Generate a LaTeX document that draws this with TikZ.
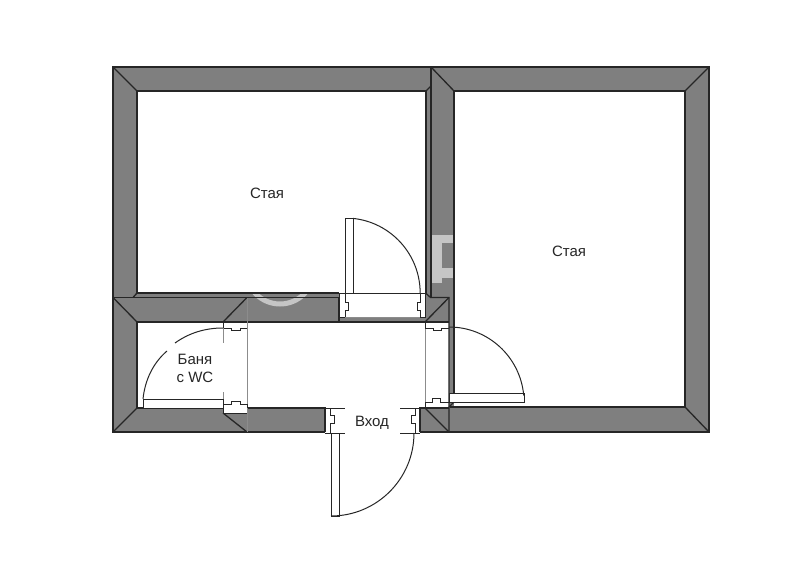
\documentclass[tikz,border=0pt]{standalone}
\usepackage{fontspec}
\setmainfont{Liberation Sans}
\definecolor{wallgray}{HTML}{7F7F7F}
\definecolor{ink}{HTML}{262626}
\tikzset{
  x=1pt,y=-1pt,
  wall/.style={draw=ink,line width=1.3pt,line join=miter},
  thin line/.style={draw=ink,line width=0.9pt},
  faint/.style={draw=black!45,line width=0.8pt},
  leaf/.style={draw=ink,line width=0.95pt,fill=white},
  swing/.style={draw=ink,line width=1pt},
  label/.style={font=\fontsize{15}{18}\selectfont,text=black!85,align=center,inner sep=0pt},
  mark stroke/.style={draw=white,opacity=0.55,line width=5pt},
}
\begin{document}
\begin{tikzpicture}
\useasboundingbox (0,0) rectangle (800,588);
% masonry
\fill[wallgray] (113,67) rectangle (709,432);
% white voids
\fill[white] (137,91) rectangle (426,293);
\fill[white] (454,91) rectangle (685,407);
\fill[white] (137,322) rectangle (425,408);
\fill[white] (425,322) rectangle (449,407);
\fill[white] (339,293) rectangle (425,317);
\fill[white] (325,408) rectangle (420,433);
\fill[white] (223,408) rectangle (247,413);
% watermark traces on the walls
\begin{scope}
  \clip (247,293) rectangle (339,322);
  \draw[mark stroke] (280,270) circle (34);
\end{scope}
\fill[white,opacity=0.55] (432,235) rectangle (454,243);
\fill[white,opacity=0.55] (432,243) rectangle (442,283);
\fill[white,opacity=0.55] (442,268) rectangle (454,278);
% outer contour and upper walls
\draw[wall] (325,432) -- (113,432) -- (113,67) -- (709,67) -- (709,432) -- (420,432);
\draw[wall] (137,293) -- (137,91) -- (426,91) -- (426,293);
\draw[wall] (454,393) -- (454,91) -- (685,91) -- (685,407) -- (449.5,407);
\draw[wall] (431,67) -- (431,297);
\draw[wall] (113,297.5) -- (247,297.5);
\draw[wall] (137,293) -- (339,293);
\draw[wall] (133,297.5) -- (339,297.5);
\draw[wall] (425.5,293) -- (430.5,297.5) -- (449,297.5) -- (449,432);
% mitres
\draw[wall] (113,67) -- (137,91);
\draw[wall] (709,67) -- (685,91);
\draw[wall] (709,432) -- (685,407);
\draw[wall] (431,67) -- (454,91);
\draw[wall] (431,86) -- (426,91);
\draw[wall] (137,293) -- (133,297.5);
\draw[wall] (449,297.5) -- (425,322);
\draw[wall] (425,408) -- (449,432);
\draw[wall] (113,297.5) -- (137,322);
\draw[wall] (113,432) -- (137,408);
\draw[wall] (247,297.5) -- (223,322);
\draw[wall] (247,432) -- (223,413);
\draw[wall] (454,402) -- (449,407);
% inner walls
\draw[wall] (137,322) -- (449,322);
\draw[wall] (137,322) -- (137,408) -- (223,408);
\draw[wall] (247,408) -- (325,408) -- (325,432);
\draw[wall] (420,432) -- (420,408) -- (449,408);
\draw[faint] (247,298) -- (247,432);
\draw[wall] (339,297.5) -- (339,322);
% upper door opening
\draw[thin line] (339,293) -- (425,293);
\draw[thin line] (339,293) -- (339,317) -- (345,317) -- (345,310) -- (348,310) -- (348,302) -- (345,302) -- (345,293);
\draw[thin line] (425,293) -- (425,317) -- (420,317) -- (420,310) -- (417,310) -- (417,302) -- (420,302) -- (420,293);
\draw[faint] (345,317) -- (420,317);
\draw[leaf] (345,218) rectangle (353,293);
\draw[swing] (353,218.4) arc[start angle=-84,end angle=0,radius=75];
% bathroom door jambs
\draw[thin line] (223,322) -- (223,328) -- (231,328) -- (231,330.5) -- (240,330.5) -- (240,328) -- (247,328);
\draw[thin line] (223,404) -- (231,404) -- (231,401) -- (240,401) -- (240,404) -- (247,404) -- (247,408);
\draw[thin line] (223,404) -- (223,413) -- (247,413);
\draw[faint] (223,328) -- (223,343);
\draw[faint] (223,392) -- (223,404);
\draw[leaf] (143,399) rectangle (223,408);
\draw[swing] (143,399) .. controls (145,380) and (153,363) .. (167,351);
\draw[swing] (175,343) .. controls (189,333) and (205,328) .. (223,328);
% right door
\draw[faint] (425,328) -- (425,402);
\draw[thin line] (425,322) -- (425,328) -- (433,328) -- (433,330.5) -- (441,330.5) -- (441,328) -- (449,328);
\draw[thin line] (425,407) -- (425,402) -- (432,402) -- (432,398) -- (440,398) -- (440,402) -- (449,402);
\draw[leaf] (449,393) rectangle (524,402);
\draw[swing] (449,327) arc[start angle=-90,end angle=-5,radius=75];
% entrance
\draw[thin line] (325,408) -- (345,408);
\draw[thin line] (400,408) -- (420,408);
\draw[thin line] (325,433) -- (345,433);
\draw[thin line] (400,433) -- (420,433);
\draw[thin line] (330,408) -- (330,415) -- (334,415) -- (334,423) -- (330,423) -- (330,433);
\draw[thin line] (415.5,408) -- (415.5,415) -- (411,415) -- (411,423) -- (415.5,423) -- (415.5,433);
\draw[leaf] (331,433) rectangle (339,516);
\draw[swing] (331,516) arc[start angle=90,end angle=0,radius=83];
% labels
\node[label] (room1) at (267,193) {Стая};
\node[label] (room2) at (569,251) {Стая};
\node[label] (bath) at (195,368.5) {Баня\\с WC};
\node[label] (entry) at (372,422.5) {Вход};
\end{tikzpicture}
\end{document}
